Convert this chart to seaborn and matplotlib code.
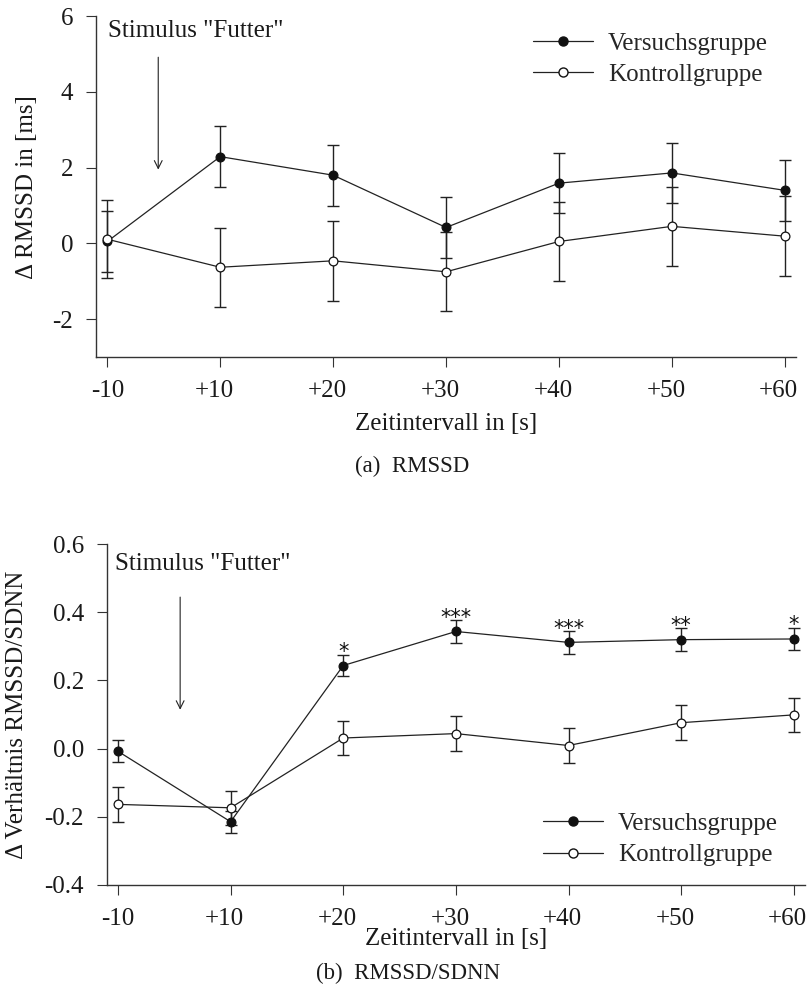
import numpy as np
import pandas as pd
import matplotlib
matplotlib.use("Agg")
import matplotlib.pyplot as plt
from matplotlib.lines import Line2D
from matplotlib.transforms import ScaledTranslation
import seaborn as sns

# ---------------- data ----------------
x_labels = ["-10", "+10", "+20", "+30", "+40", "+50", "+60"]
groups = ["Versuchsgruppe", "Kontrollgruppe"]

rmssd_vg = [0.05, 2.29, 1.80, 0.42, 1.59, 1.86, 1.40]
rmssd_vg_err = [0.80, 0.80, 0.80, 0.80, 0.80, 0.80, 0.80]
rmssd_kg = [0.11, -0.63, -0.46, -0.75, 0.05, 0.45, 0.19]
rmssd_kg_err = [1.03, 1.04, 1.05, 1.04, 1.04, 1.04, 1.05]

ratio_vg = [-0.008, -0.215, 0.244, 0.344, 0.312, 0.320, 0.322]
ratio_vg_err = [0.032, 0.032, 0.032, 0.033, 0.033, 0.033, 0.033]
ratio_kg = [-0.164, -0.174, 0.031, 0.044, 0.009, 0.076, 0.099]
ratio_kg_err = [0.052, 0.050, 0.051, 0.051, 0.051, 0.051, 0.051]
ratio_stars = ["", "", "*", "***", "***", "**", "*"]

rmssd_yticks = [-2, 0, 2, 4, 6]
rmssd_yticklabels = ["-2", "0", "2", "4", "6"]
ratio_yticks = [-0.4, -0.2, 0.0, 0.2, 0.4, 0.6]
ratio_yticklabels = ["-0.4", "-0.2", "0.0", "0.2", "0.4", "0.6"]

# ---------------- style ----------------
sns.set_theme(style="ticks")
plt.rcParams["font.family"] = ["Liberation Serif", "DejaVu Serif"]
plt.rcParams["axes.unicode_minus"] = False
INK = "#222222"

fig = plt.figure(figsize=(8.09, 9.99), dpi=100)
ax1 = fig.add_axes([0.1187, 0.6426, 0.8653, 0.3413])
ax2 = fig.add_axes([0.1319, 0.1144, 0.8632, 0.3407])


def panel(ax, vg, vg_err, kg, kg_err):
    pos = np.arange(len(x_labels))
    df = pd.DataFrame({
        "pos": np.concatenate([pos, pos]),
        "val": np.concatenate([vg, kg]),
        "group": [groups[0]] * len(pos) + [groups[1]] * len(pos),
    })
    ax.errorbar(pos, vg, yerr=vg_err, fmt="none", ecolor=INK, elinewidth=1.0,
                capsize=4.5, capthick=1.0, zorder=2)
    ax.errorbar(pos, kg, yerr=kg_err, fmt="none", ecolor=INK, elinewidth=1.0,
                capsize=4.5, capthick=1.0, zorder=2)
    sns.lineplot(data=df, x="pos", y="val", hue="group",
                 palette={groups[0]: INK, groups[1]: INK}, lw=0.9,
                 legend=False, ax=ax, zorder=3)
    sns.scatterplot(data=df[df.group == groups[0]], x="pos", y="val",
                    color="#111111", edgecolor="#111111", linewidth=0.9,
                    s=40, legend=False, ax=ax, zorder=4)
    sns.scatterplot(data=df[df.group == groups[1]], x="pos", y="val",
                    color="white", edgecolor="#111111", linewidth=0.9,
                    s=40, legend=False, ax=ax, zorder=5)
    ax.set_xticks(pos)
    ax.set_xticklabels(x_labels)
    ax.set_xlim(-0.1, 6.1)
    sns.despine(ax=ax)
    for sp in ("left", "bottom"):
        ax.spines[sp].set_color("#333333")
        ax.spines[sp].set_linewidth(1.0)
    ax.tick_params(axis="both", direction="out", length=7, width=0.8,
                   color="#333333", labelsize=18, pad=9.5, labelcolor="#1a1a1a")
    # the "+" sign hangs to the left of the centred digits
    shift = ScaledTranslation(-6 / 100, 0, fig.dpi_scale_trans)
    for lbl in ax.get_xticklabels():
        if lbl.get_text().startswith("+"):
            lbl.set_transform(lbl.get_transform() + shift)
    ax.set_xlabel("Zeitintervall in [s]", fontsize=18, color="#1a1a1a")


def legend(ax, anchor):
    handles = [
        Line2D([], [], color=INK, lw=0.9, marker="o", markersize=6.5,
               markerfacecolor="#111111", markeredgecolor="#111111"),
        Line2D([], [], color=INK, lw=0.9, marker="o", markersize=6.5,
               markerfacecolor="white", markeredgecolor="#111111"),
    ]
    ax.legend(handles, groups, loc="upper left", bbox_to_anchor=anchor,
              frameon=False, fontsize=18, handlelength=2.4, handletextpad=0.6,
              labelspacing=0.35, borderpad=0, borderaxespad=0)


# ---- panel (a)
panel(ax1, rmssd_vg, rmssd_vg_err, rmssd_kg, rmssd_kg_err)
ax1.set_ylim(-3, 6)
ax1.set_yticks(rmssd_yticks)
ax1.set_yticklabels(rmssd_yticklabels)
ax1.set_ylabel("\u0394 RMSSD in [ms]", fontsize=18, color="#1a1a1a")
ax1.yaxis.set_label_coords(-0.083, 0.5)
ax1.xaxis.set_label_coords(0.5, -0.164)
legend(ax1, (0.624, 0.953))
ax1.text(0.01, 5.44, "Stimulus \"Futter\"", fontsize=18, ha="left",
         va="baseline", color="#1a1a1a")
ax1.annotate("", xy=(0.451, 1.947), xytext=(0.451, 4.914),
             arrowprops=dict(arrowstyle="->", color=INK, lw=0.8,
                             shrinkA=0, shrinkB=0, mutation_scale=14))

# ---- panel (b)
panel(ax2, ratio_vg, ratio_vg_err, ratio_kg, ratio_kg_err)
ax2.set_ylim(-0.4, 0.6)
ax2.set_yticks(ratio_yticks)
ax2.set_yticklabels(ratio_yticklabels)
ax2.set_ylabel("\u0394 Verh\u00e4ltnis RMSSD/SDNN", fontsize=18, color="#1a1a1a")
ax2.yaxis.set_label_coords(-0.113, 0.5)
ax2.xaxis.set_label_coords(0.5, -0.128)
legend(ax2, (0.625, 0.212))
ax2.text(-0.024, 0.5235, "Stimulus \"Futter\"", fontsize=18, ha="left",
         va="baseline", color="#1a1a1a")
ax2.annotate("", xy=(0.552, 0.114), xytext=(0.552, 0.445),
             arrowprops=dict(arrowstyle="->", color=INK, lw=0.8,
                             shrinkA=0, shrinkB=0, mutation_scale=14))
for i, s in enumerate(ratio_stars):
    if s:
        ax2.annotate(s, (i, ratio_vg[i] + ratio_vg_err[i]), xytext=(0, -2.5),
                     textcoords="offset points", ha="center", va="baseline",
                     fontsize=15, color="#111111", family="DejaVu Sans")

# ---- captions
fig.text(0.509, 0.5278, "(a)  RMSSD", fontsize=16.5, ha="center",
         va="baseline", color="#1a1a1a")
fig.text(0.504, 0.0197, "(b)  RMSSD/SDNN", fontsize=16.5, ha="center",
         va="baseline", color="#1a1a1a")

fig.savefig("out.png", dpi=100)
